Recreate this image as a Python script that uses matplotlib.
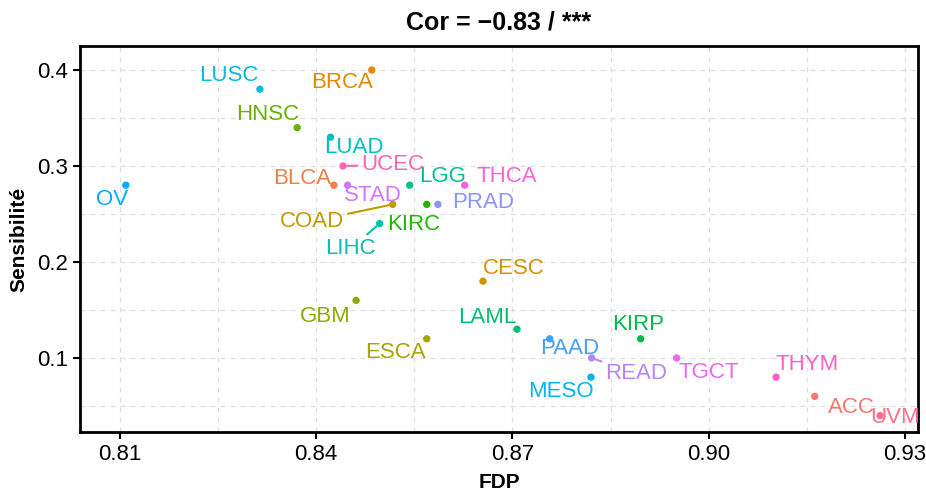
import numpy as np
import matplotlib
matplotlib.use('Agg')
from matplotlib import pyplot as plt

plt.rcParams['font.family'] = ['Liberation Sans', 'DejaVu Sans']

# cancer types, alphabetical (this is also the colour order)
types = ['ACC', 'BLCA', 'BRCA', 'CESC', 'COAD', 'ESCA', 'GBM', 'HNSC',
         'KIRC', 'KIRP', 'LAML', 'LGG', 'LIHC', 'LUAD', 'LUSC', 'MESO',
         'OV', 'PAAD', 'PRAD', 'READ', 'STAD', 'TGCT', 'THCA', 'THYM',
         'UCEC', 'UVM']
fdp = [0.9162, 0.8427, 0.8485, 0.8655, 0.8517, 0.8569, 0.8461, 0.8371,
       0.8569, 0.8896, 0.8707, 0.8543, 0.8497, 0.8422, 0.8314, 0.8820,
       0.8109, 0.8757, 0.8586, 0.8821, 0.8448, 0.8951, 0.8627, 0.9103,
       0.8441, 0.9262]
sens = [0.06, 0.28, 0.40, 0.18, 0.26, 0.12, 0.16, 0.34,
        0.26, 0.12, 0.13, 0.28, 0.24, 0.33, 0.38, 0.08,
        0.28, 0.12, 0.26, 0.10, 0.28, 0.10, 0.28, 0.08,
        0.30, 0.04]

# where each label sits relative to its point (pixels), and whether a
# segment links them (ggrepel look)
label_pos = {
    'OV': (-14, -14, False), 'LUSC': (-31, 14, False), 'BRCA': (-30, -13, False),
    'HNSC': (-30, 13, False), 'LUAD': (23, -10, False), 'UCEC': (50, 1, True),
    'BLCA': (-32, 7, False), 'STAD': (25, -10, False), 'LGG': (33, 9, False),
    'THCA': (42, 9, False), 'PRAD': (45, 2, False), 'COAD': (-81, -17, True),
    'KIRC': (-13, -20, False), 'LIHC': (-29, -25, True), 'CESC': (31, 13, False),
    'GBM': (-31, -16, False), 'ESCA': (-31, -14, False), 'LAML': (-30, 12, False),
    'PAAD': (20, -10, False), 'KIRP': (-3, 14, False), 'READ': (45, -16, True),
    'MESO': (-30, -14, False), 'TGCT': (32, -15, False), 'THYM': (31, 13, False),
    'ACC': (37, -11, False), 'UVM': (15, -2, False),
}


def luv_to_rgb(h, c=100, l=65):
    # ggplot2 hue palette colour (polar Luv -> sRGB)
    xn, yn, zn = 95.047, 100.0, 108.883
    un = 4 * xn / (xn + 15 * yn + 3 * zn)
    vn = 9 * yn / (xn + 15 * yn + 3 * zn)
    u = c * np.cos(np.radians(h))
    v = c * np.sin(np.radians(h))
    y = yn * ((l + 16) / 116) ** 3
    up = u / (13 * l) + un
    vp = v / (13 * l) + vn
    x = y * 9 * up / (4 * vp)
    z = y * (12 - 3 * up - 20 * vp) / (4 * vp)
    x, y, z = x / 100, y / 100, z / 100
    r = 3.2404542 * x - 1.5371385 * y - 0.4985314 * z
    g = -0.9692660 * x + 1.8760108 * y + 0.0415560 * z
    b = 0.0556434 * x - 0.2040259 * y + 1.0572252 * z
    out = []
    for ch in (r, g, b):
        ch = 12.92 * ch if ch <= 0.0031308 else 1.055 * ch ** (1 / 2.4) - 0.055
        out.append(min(max(ch, 0), 1))
    return tuple(out)


n = len(types)
colors = [luv_to_rgb(15 + i * 360 / n) for i in range(n)]

fig = plt.figure(figsize=(9.26, 4.92), dpi=100)
ax = fig.add_axes([0.0864, 0.122, 0.905, 0.7845])

ax.scatter(fdp, sens, c=colors, s=28, zorder=3, linewidths=0)

for t, x, y, col in zip(types, fdp, sens, colors):
    dx, dy, seg = label_pos[t]
    arrow = dict(arrowstyle='-', color=col, lw=1.5, shrinkA=1, shrinkB=3) if seg else None
    ax.annotate(t, (x, y), xytext=(dx, dy), textcoords='offset pixels',
                ha='center', va='center', color=col, fontsize=16,
                arrowprops=arrow, zorder=4)

ax.set_xlim(0.8039, 0.932)
ax.set_ylim(0.0229, 0.425)
ax.set_xticks([0.81, 0.84, 0.87, 0.90, 0.93])
ax.set_xticklabels(['0.81', '0.84', '0.87', '0.90', '0.93'])
ax.set_yticks([0.1, 0.2, 0.3, 0.4])
ax.set_yticklabels(['0.1', '0.2', '0.3', '0.4'])
ax.set_xticks([0.825, 0.855, 0.885, 0.915], minor=True)
ax.set_yticks([0.05, 0.15, 0.25, 0.35], minor=True)
ax.tick_params(which='major', length=5, width=1.5, labelsize=16, color='black')
ax.tick_params(which='minor', length=0)
ax.grid(True, which='both', color='#dedede', linestyle=(0, (4, 4)), linewidth=0.9)
ax.set_axisbelow(True)
for sp in ax.spines.values():
    sp.set_linewidth(2)

ax.set_xlabel('FDP', fontsize=15, fontweight='bold', labelpad=6)
ax.set_ylabel('Sensibilité', fontsize=15, fontweight='bold', labelpad=6)
ax.set_title('Cor = \u22120.83 / ***', fontsize=18, fontweight='bold', pad=12)

fig.savefig('out.png', dpi=100)
